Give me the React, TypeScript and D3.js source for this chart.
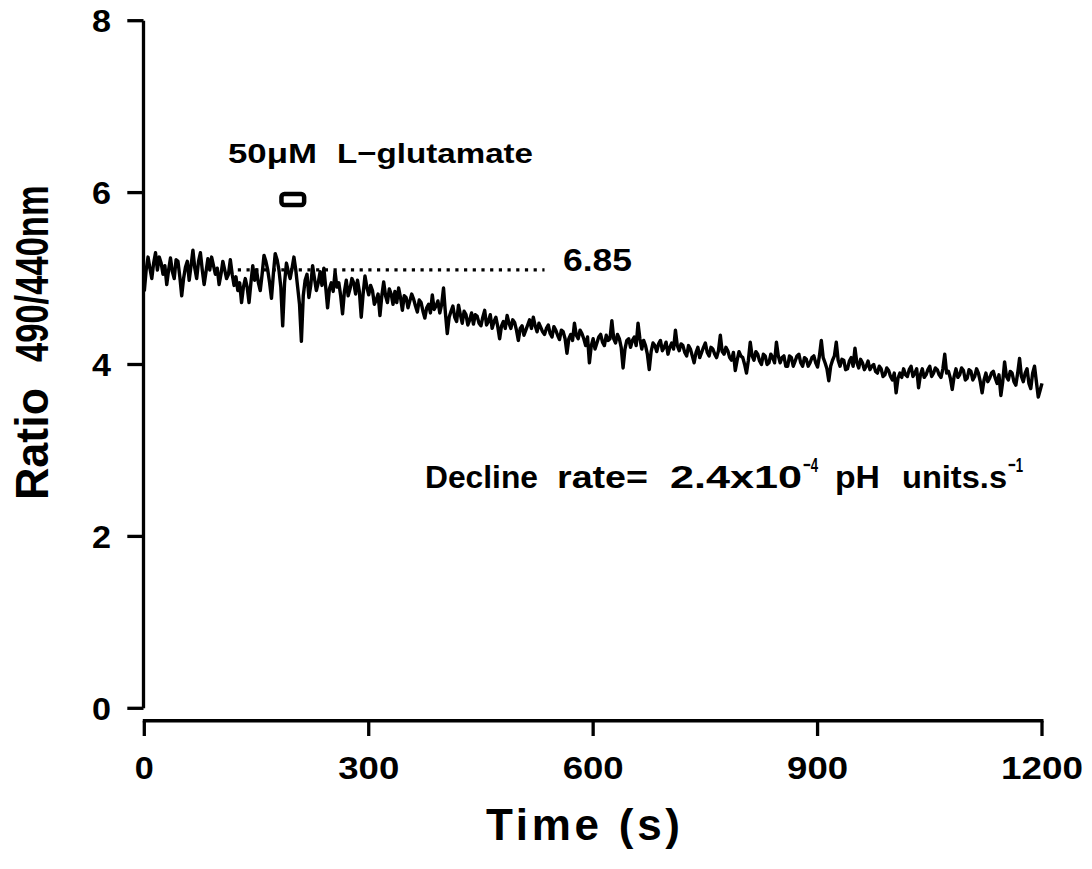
import React from "react";
import * as d3 from "d3";

// ---- data ----
const sampleInterval = 2.5; // s between samples, starting at t = 0
const ratio: number[] = [
  4.85, 5.1, 5.25, 5.12, 5.0, 5.18, 5.3, 5.1, 5.25, 5.18, 5.05, 5.15, 4.93, 5.1, 5.24, 5.08, 5.0, 5.22, 5.2, 5.02,
  4.8, 5.0, 5.13, 5.2, 4.98, 5.15, 5.33, 5.12, 5.0, 5.2, 5.3, 5.1, 4.93, 5.08, 5.23, 5.1, 5.25, 5.15, 5.05, 5.12,
  4.93, 5.05, 5.2, 5.1, 5.0, 5.05, 5.22, 5.05, 4.92, 5.02, 4.86, 4.95, 4.72, 4.9, 5.0, 4.9, 4.72, 4.95, 5.15, 4.98,
  5.1, 4.95, 4.86, 5.05, 5.27, 5.2, 5.1, 4.95, 4.77, 5.05, 5.29, 5.22, 5.1, 4.9, 4.45, 4.95, 5.18, 5.08, 5.0, 5.12,
  5.25, 5.1, 4.9, 4.7, 4.27, 4.8, 4.98, 5.05, 4.78, 4.92, 5.15, 5.0, 4.86, 4.95, 5.08, 4.92, 5.12, 4.9, 4.66, 4.88,
  4.95, 4.85, 5.08, 4.9, 4.95, 4.8, 4.59, 4.85, 4.98, 4.8, 4.88, 5.0, 4.95, 4.82, 4.98, 4.85, 4.55, 4.82, 5.03, 4.9,
  4.81, 4.92, 4.86, 4.7, 4.75, 4.82, 4.57, 4.8, 4.96, 4.8, 4.72, 4.88, 4.82, 4.7, 4.85, 4.72, 4.89, 4.78, 4.63, 4.8,
  4.78, 4.66, 4.74, 4.82, 4.76, 4.68, 4.61, 4.75, 4.72, 4.62, 4.54, 4.66, 4.7, 4.6, 4.81, 4.64, 4.68, 4.74, 4.6, 4.7,
  4.89, 4.6, 4.36, 4.55, 4.62, 4.68, 4.55, 4.5, 4.69, 4.58, 4.48, 4.62, 4.58, 4.46, 4.52, 4.6, 4.47, 4.58, 4.56, 4.48,
  4.45, 4.55, 4.63, 4.46, 4.5, 4.58, 4.42, 4.5, 4.55, 4.44, 4.3, 4.45, 4.5, 4.42, 4.57, 4.48, 4.42, 4.52, 4.49, 4.4,
  4.28, 4.42, 4.45, 4.34, 4.4, 4.46, 4.52, 4.42, 4.55, 4.45, 4.38, 4.48, 4.43, 4.38, 4.35, 4.42, 4.46, 4.36, 4.32, 4.44,
  4.4, 4.34, 4.29, 4.4, 4.38, 4.3, 4.13, 4.3, 4.35, 4.28, 4.48, 4.34, 4.3, 4.4, 4.36, 4.3, 4.22, 4.32, 4.02, 4.22,
  4.3, 4.18, 4.25, 4.32, 4.35, 4.26, 4.22, 4.34, 4.28, 4.3, 4.51, 4.3, 4.25, 4.35, 4.3, 4.2, 3.96, 4.18, 4.28, 4.3,
  4.2, 4.28, 4.32, 4.22, 4.48, 4.3, 4.18, 4.28, 4.22, 4.12, 3.94, 4.15, 4.25, 4.22, 4.15, 4.24, 4.28, 4.16, 4.2, 4.26,
  4.12, 4.2, 4.25, 4.18, 4.4, 4.22, 4.16, 4.24, 4.22, 4.14, 4.1, 4.22, 4.18, 4.1, 4.02, 4.14, 4.2, 4.08, 4.14, 4.2,
  4.25, 4.14, 4.1, 4.2, 4.18, 4.12, 4.08, 4.16, 4.34, 4.15, 4.12, 4.2, 4.16, 4.08, 4.05, 4.14, 3.93, 4.05, 4.15, 4.1,
  4.08, 4.0, 3.9, 4.05, 4.26, 4.1, 4.05, 4.15, 4.12, 4.04, 4.0, 4.12, 4.1, 4.0, 4.02, 4.12, 4.08, 4.02, 4.26, 4.1,
  4.02, 4.08, 4.1, 3.98, 3.98, 4.1, 4.08, 3.98, 4.04, 4.1, 4.12, 4.02, 3.98, 4.08, 4.06, 3.98, 4.02, 4.08, 4.1, 4.02,
  3.97, 4.1, 4.28, 4.08, 4.02, 3.95, 3.81, 3.98, 4.05, 4.1, 4.26, 4.05, 3.98, 4.06, 4.05, 3.94, 3.95, 4.04, 4.08, 3.98,
  4.19, 4.02, 3.96, 4.06, 4.02, 3.94, 3.98, 4.04, 3.94, 3.98, 4.0, 3.92, 3.9, 3.98, 3.95, 3.86, 3.88, 3.96, 3.93, 3.86,
  3.82, 3.9, 3.67, 3.84, 3.9, 3.85, 3.95, 3.88, 3.86, 3.94, 3.98, 3.86, 3.9, 3.95, 3.73, 3.88, 3.95, 3.85, 3.88, 3.94,
  3.98, 3.86, 3.9, 3.96, 3.94, 3.88, 3.85, 3.95, 4.12, 3.9, 3.92, 3.84, 3.71, 3.86, 3.95, 3.85, 3.88, 3.96, 3.93, 3.82,
  3.84, 3.94, 3.92, 3.82, 3.86, 3.95, 3.9, 3.8, 3.67, 3.82, 3.9, 3.8, 3.84, 3.9, 3.92, 3.84, 3.78, 3.88, 3.64, 3.8,
  4.03, 3.86, 3.82, 3.92, 3.9, 3.8, 3.76, 3.9, 4.07, 3.86, 3.8, 3.9, 3.95, 3.78, 3.72, 3.9, 3.98, 3.8, 3.62, 3.7,
  3.78,
];

const xTicks = [0, 300, 600, 900, 1200];
const yTicks = [0, 2, 4, 6, 8];
const glutamateStart = 180;
const glutamateEnd = 217;
const glutamateLevel = 5.92;
const restingLevel = 5.1;
const restingFrom = 125;
const restingTo = 535;
const restingLabel = "6.85";
const glutamateLabel = ["50μM", "L−glutamate"];

export default function App() {
  const W = 1092;
  const H = 869;
  const x = d3.scaleLinear().domain([0, 1200]).range([144.3, 1042]);
  const y = d3.scaleLinear().domain([0, 8]).range([708.3, 20.7]);

  const pts: [number, number][] = ratio.map((v, i) => [i * sampleInterval, v]);
  const line = d3
    .line<[number, number]>()
    .x((d) => x(d[0]))
    .y((d) => y(d[1]));

  const axisX = 143.5;
  const axisY = 720.8;
  const font = "'Liberation Sans', Arial, Helvetica, sans-serif";
  const bx0 = x(glutamateStart);
  const bx1 = x(glutamateEnd);
  const by = y(glutamateLevel);
  const SG = "spacingAndGlyphs";

  return (
    <svg
      width={W}
      height={H}
      style={{ position: "absolute", left: 0, top: 0, background: "#fff" }}
      fontFamily={font}
      fontWeight="bold"
    >
      <rect width={W} height={H} fill="#fff" />
      {/* y axis */}
      <line x1={axisX} x2={axisX} y1={y(8)} y2={y(0)} stroke="#000" strokeWidth={3.3} />
      {yTicks.map((t) => (
        <g key={"y" + t}>
          <line x1={127.3} x2={axisX} y1={y(t)} y2={y(t)} stroke="#000" strokeWidth={3.3} />
          <text x={111} y={y(t)} dy="0.36em" textAnchor="end" fontSize={32} textLength={19} lengthAdjust={SG}>
            {t}
          </text>
        </g>
      ))}
      {/* x axis */}
      <line x1={x(0) - 1.5} x2={x(1200) + 1.5} y1={axisY} y2={axisY} stroke="#000" strokeWidth={3.5} />
      {xTicks.map((t) => (
        <g key={"x" + t}>
          <line x1={x(t)} x2={x(t)} y1={axisY} y2={736} stroke="#000" strokeWidth={3.3} />
          <text
            x={x(t)}
            y={779}
            textAnchor="middle"
            fontSize={32}
            textLength={t === 0 ? 19 : t < 1000 ? 61 : 82}
            lengthAdjust={SG}
          >
            {t}
          </text>
        </g>
      ))}
      {/* axis titles */}
      <text x={486} y={840} fontSize={44} textLength={194} lengthAdjust="spacing">
        Time (s)
      </text>
      <g transform={`translate(48,500) rotate(-90)`} fontSize={47}>
        <text x={0} y={0} textLength={112} lengthAdjust={SG}>Ratio</text>
        <text transform="translate(138,0) scale(0.735,1)">490/440nm</text>
      </g>

      {/* trace */}
      <path d={line(pts) || ""} fill="none" stroke="#000" strokeWidth={3.4} strokeLinejoin="round" />

      {/* resting level dotted line */}
      <line
        x1={x(restingFrom)}
        x2={x(restingTo)}
        y1={y(restingLevel)}
        y2={y(restingLevel)}
        stroke="#000"
        strokeWidth={3.2}
        strokeDasharray="3.2 5.5"
      />
      <text x={563} y={271} fontSize={31} textLength={69} lengthAdjust={SG}>
        {restingLabel}
      </text>

      {/* glutamate application */}
      <rect
        x={bx0 + 2.5}
        y={by - 5.5}
        width={bx1 - bx0 - 5}
        height={11}
        rx={3}
        fill="#fff"
        stroke="#000"
        strokeWidth={4.5}
      />
      <text x={228} y={163} fontSize={28} textLength={89} lengthAdjust={SG}>
        {glutamateLabel[0]}
      </text>
      <text x={337} y={163} fontSize={28} textLength={196} lengthAdjust={SG}>
        {glutamateLabel[1]}
      </text>

      {/* decline rate */}
      <g fontSize={32}>
        <text x={425} y={488} textLength={113} lengthAdjust={SG}>Decline</text>
        <text x={557} y={488} textLength={91} lengthAdjust={SG}>rate=</text>
        <text x={670} y={488} textLength={132} lengthAdjust={SG}>2.4x10</text>
        <text x={803} y={472} fontSize={21} textLength={15} lengthAdjust={SG}>−4</text>
        <text x={835} y={488} textLength={45} lengthAdjust={SG}>pH</text>
        <text x={902} y={488} textLength={105} lengthAdjust={SG}>units.s</text>
        <text x={1008} y={472} fontSize={21} textLength={15} lengthAdjust={SG}>−1</text>
      </g>
    </svg>
  );
}
